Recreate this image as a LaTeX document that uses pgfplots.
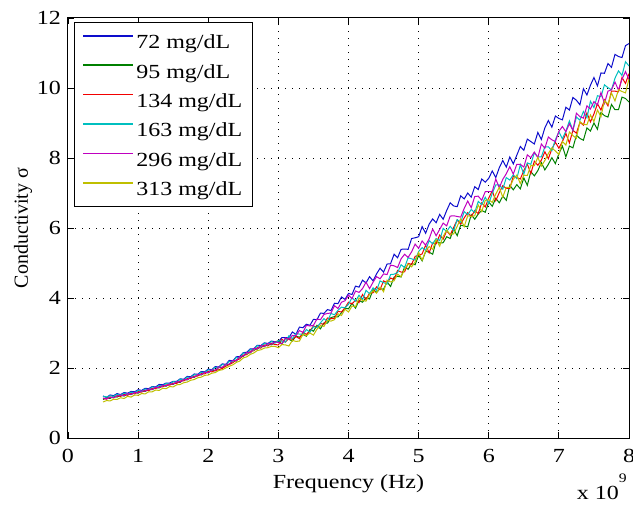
\documentclass[border=0pt]{standalone}
\usepackage{pgfplots}
\pgfplotsset{compat=1.18}
\usepackage{pgfplotstable}
\usepackage{fontspec}
\setmainfont{Liberation Serif}
% the reference text is set wide, so a stretched Times-like face for horizontal text
\newfontfamily\widefam{Liberation Serif}[FakeStretch=1.2]
\newcommand{\wf}{\fontsize{10}{12}\widefam}

\definecolor{mblue}{rgb}{0.05,0.05,0.8}
\definecolor{mgreen}{rgb}{0,0.5,0}
\definecolor{mred}{rgb}{0.95,0,0}
\definecolor{mcyan}{rgb}{0,0.75,0.75}
\definecolor{mmag}{rgb}{0.75,0,0.75}
\definecolor{myel}{rgb}{0.75,0.75,0}

% x in GHz; b=72, g=95, r=134, c=163, m=296, y=313 mg/dL
\pgfplotstableread{
x b g r c m y
0.50 1.20 1.10 1.13 1.19 1.14 1.03
0.55 1.16 1.15 1.11 1.17 1.12 1.07
0.60 1.23 1.13 1.17 1.21 1.17 1.06
0.65 1.21 1.19 1.15 1.19 1.15 1.11
0.70 1.27 1.17 1.21 1.25 1.20 1.10
0.75 1.24 1.22 1.19 1.22 1.23 1.15
0.80 1.30 1.20 1.25 1.28 1.21 1.13
0.85 1.28 1.26 1.22 1.25 1.27 1.19
0.90 1.33 1.24 1.28 1.31 1.25 1.17
0.95 1.32 1.30 1.26 1.29 1.30 1.23
1.00 1.38 1.28 1.33 1.36 1.29 1.22
1.05 1.36 1.34 1.31 1.33 1.35 1.27
1.10 1.42 1.33 1.37 1.40 1.34 1.26
1.15 1.41 1.39 1.35 1.38 1.40 1.32
1.20 1.47 1.38 1.42 1.46 1.39 1.32
1.25 1.46 1.44 1.41 1.44 1.45 1.37
1.30 1.53 1.43 1.47 1.50 1.44 1.36
1.35 1.52 1.50 1.46 1.49 1.50 1.42
1.40 1.57 1.48 1.52 1.56 1.49 1.41
1.45 1.57 1.55 1.51 1.54 1.55 1.47
1.50 1.62 1.53 1.57 1.61 1.54 1.46
1.55 1.62 1.60 1.56 1.60 1.61 1.52
1.60 1.69 1.59 1.63 1.68 1.60 1.53
1.65 1.68 1.67 1.63 1.66 1.67 1.58
1.70 1.76 1.66 1.70 1.74 1.67 1.60
1.75 1.75 1.74 1.70 1.73 1.74 1.65
1.80 1.83 1.73 1.77 1.81 1.74 1.67
1.85 1.82 1.81 1.77 1.80 1.81 1.72
1.90 1.90 1.80 1.84 1.88 1.81 1.74
1.95 1.89 1.88 1.83 1.87 1.88 1.79
2.00 1.97 1.86 1.91 1.95 1.87 1.80
2.05 1.95 1.94 1.89 1.93 1.95 1.85
2.10 2.04 1.92 1.93 2.02 1.94 1.87
2.15 2.03 2.02 1.95 2.01 2.03 1.93
2.20 2.12 2.00 1.99 2.10 2.02 1.95
2.25 2.10 2.10 2.05 2.08 2.11 2.00
2.30 2.22 2.10 2.10 2.19 2.11 2.05
2.35 2.20 2.21 2.15 2.18 2.22 2.09
2.40 2.32 2.20 2.23 2.30 2.21 2.16
2.45 2.33 2.32 2.26 2.29 2.33 2.20
2.50 2.44 2.33 2.37 2.43 2.34 2.29
2.55 2.45 2.44 2.38 2.41 2.45 2.32
2.60 2.55 2.43 2.48 2.53 2.44 2.39
2.65 2.55 2.55 2.49 2.51 2.56 2.43
2.70 2.65 2.54 2.58 2.64 2.55 2.50
2.75 2.64 2.63 2.57 2.60 2.64 2.52
2.80 2.72 2.61 2.66 2.71 2.62 2.57
2.85 2.70 2.69 2.63 2.66 2.70 2.58
2.90 2.77 2.66 2.71 2.76 2.68 2.62
2.95 2.75 2.74 2.67 2.71 2.75 2.62
3.00 2.75 2.78 2.66 2.78 2.73 2.58
3.05 2.87 2.69 2.82 2.77 2.68 2.67
3.10 2.87 2.84 2.74 2.74 2.86 2.66
3.15 2.87 2.82 2.84 2.92 2.82 2.63
3.20 3.03 2.77 2.82 2.84 2.93 2.79
3.25 2.96 2.91 2.90 2.98 2.92 2.76
3.30 3.17 2.88 2.84 2.97 3.07 2.77
3.35 3.15 2.96 3.02 2.96 3.02 2.96
3.40 3.25 2.91 2.96 3.10 3.22 2.93
3.45 3.22 3.10 3.06 3.02 3.20 3.00
3.50 3.39 3.05 3.20 3.18 3.22 2.94
3.55 3.38 3.22 3.17 3.16 3.40 3.11
3.60 3.57 3.12 3.27 3.29 3.38 3.21
3.65 3.56 3.29 3.25 3.41 3.53 3.19
3.70 3.67 3.28 3.43 3.33 3.56 3.36
3.75 3.64 3.44 3.41 3.56 3.57 3.34
3.80 3.85 3.47 3.42 3.52 3.78 3.38
3.85 3.84 3.46 3.62 3.65 3.70 3.55
3.90 4.03 3.58 3.60 3.74 3.88 3.50
3.95 3.96 3.71 3.72 3.72 3.92 3.68
4.00 4.13 3.69 3.88 3.82 4.08 3.60
4.05 4.10 3.85 3.83 4.01 3.98 3.77
4.10 4.34 3.71 3.94 3.91 4.20 3.75
4.15 4.31 3.93 3.87 4.08 4.16 4.00
4.20 4.51 3.88 4.10 3.95 4.27 3.93
4.25 4.43 4.01 3.95 4.22 4.45 3.91
4.30 4.61 3.97 4.14 4.12 4.27 4.10
4.35 4.49 4.24 4.15 4.29 4.45 4.21
4.40 4.69 4.16 4.32 4.22 4.61 4.14
4.45 4.85 4.27 4.24 4.49 4.55 4.31
4.50 4.74 4.25 4.49 4.44 4.69 4.18
4.55 4.97 4.46 4.44 4.40 4.67 4.51
4.60 4.98 4.33 4.57 4.67 4.94 4.46
4.65 5.25 4.60 4.53 4.68 4.92 4.49
4.70 5.15 4.62 4.79 4.73 4.87 4.68
4.75 5.39 4.60 4.74 4.95 5.12 4.61
4.80 5.40 4.89 4.75 4.87 5.25 4.82
4.85 5.39 4.82 4.99 5.15 5.16 4.97
4.90 5.70 4.98 4.96 5.12 5.32 4.89
4.95 5.72 4.95 5.19 5.08 5.54 5.03
5.00 5.75 5.22 5.22 5.33 5.42 5.30
5.05 6.04 5.06 5.26 5.44 5.63 5.08
5.10 5.85 5.33 5.51 5.36 5.51 5.33
5.15 6.11 5.31 5.29 5.64 5.69 5.47
5.20 6.26 5.25 5.57 5.55 5.97 5.39
5.25 6.15 5.63 5.55 5.70 5.78 5.67
5.30 6.39 5.57 5.80 5.64 5.96 5.48
5.35 6.25 5.58 5.68 5.99 6.14 5.76
5.40 6.50 5.75 5.92 5.90 6.06 5.94
5.45 6.72 5.70 5.80 6.05 6.34 5.82
5.50 6.63 5.97 6.02 5.93 6.35 5.83
5.55 6.61 5.78 6.23 6.24 6.33 6.05
5.60 6.92 6.08 6.11 6.16 6.31 6.26
5.65 6.83 6.06 6.29 6.47 6.56 6.04
5.70 7.00 6.03 6.44 6.38 6.77 6.35
5.75 6.88 6.38 6.32 6.53 6.58 6.33
5.80 7.18 6.25 6.50 6.44 6.90 6.35
5.85 7.10 6.40 6.41 6.76 6.91 6.66
5.90 7.40 6.50 6.72 6.67 6.79 6.47
5.95 7.31 6.45 6.60 6.88 7.04 6.79
6.00 7.42 6.74 6.86 6.70 7.04 6.81
6.05 7.63 6.62 7.06 6.99 7.04 6.73
6.10 7.44 6.85 6.78 7.23 7.40 6.97
6.15 7.72 6.72 7.01 7.23 7.15 7.16
6.20 7.93 6.91 7.21 7.11 7.39 6.88
6.25 7.74 6.79 7.13 7.44 7.55 7.16
6.30 8.03 7.22 7.13 7.37 7.75 7.16
6.35 7.83 7.09 7.48 7.52 7.54 7.39
6.40 8.08 7.24 7.44 7.41 7.82 7.51
6.45 8.33 7.12 7.40 7.81 7.82 7.27
6.50 8.22 7.43 7.64 7.54 7.74 7.51
6.55 8.54 7.22 7.83 7.86 8.09 7.50
6.60 8.47 7.61 7.55 7.82 8.01 7.78
6.65 8.40 7.49 7.91 8.15 8.17 7.78
6.70 8.73 7.64 7.79 8.03 8.01 8.02
6.75 8.53 7.87 7.94 8.03 8.40 7.77
6.80 8.86 7.66 8.18 8.32 8.28 7.93
6.85 9.07 7.82 7.98 8.32 8.60 8.13
6.90 8.88 8.01 8.26 8.21 8.52 8.29
6.95 9.20 7.84 8.45 8.52 8.47 8.20
7.00 9.13 8.12 8.28 8.75 8.76 8.10
7.05 9.09 8.34 8.47 8.55 8.90 8.47
7.10 9.45 8.03 8.70 8.77 8.75 8.37
7.15 9.37 8.34 8.43 9.06 8.98 8.74
7.20 9.73 8.29 8.79 8.79 8.79 8.64
7.25 9.65 8.65 8.71 9.17 9.28 8.56
7.30 9.52 8.56 9.02 9.08 9.18 9.04
7.35 9.98 8.51 8.94 9.33 9.14 8.96
7.40 9.80 8.86 9.29 9.15 9.49 8.95
7.45 10.08 8.77 9.03 9.62 9.40 9.23
7.50 10.30 9.00 9.26 9.44 9.61 9.04
7.55 10.06 8.82 9.55 9.78 9.52 9.37
7.60 10.43 9.30 9.37 9.75 9.87 9.18
7.65 10.42 9.21 9.66 10.09 9.56 9.64
7.70 10.70 9.17 9.49 10.01 9.91 9.54
7.75 10.59 9.53 9.91 9.95 9.95 9.86
7.80 10.96 9.38 9.91 10.28 10.17 9.63
7.85 10.90 9.38 9.89 10.49 9.94 9.95
7.90 10.87 9.74 10.30 10.36 10.25 9.90
7.95 11.21 9.70 10.13 10.75 10.47 9.86
8.00 11.27 9.60 10.41 10.63 10.24 10.26
}\cond

\begin{document}
\begin{tikzpicture}
\begin{axis}[
    width=280.5pt, height=210pt, scale only axis,
    xmin=0, xmax=8, ymin=0, ymax=12,
    xtick={0,1,...,8}, ytick={0,2,...,12},
    tick align=inside,
    major tick length=3pt,
    every tick/.style={black, line width=0.4pt},
    axis line style={black, line width=0.5pt},
    grid=major,
    grid style={black, line width=0.5pt, dash pattern=on 0.6pt off 2.9pt},
    /pgf/number format/assume math mode=true,
    tick label style={font=\wf},
    xticklabel style={yshift=-2pt},
    xlabel={Frequency (Hz)},
    ylabel={Conductivity σ},
    every axis x label/.style={at={(rel axis cs:0.5,0)}, anchor=base,
        yshift=-25pt, font=\wf},
    every axis y label/.style={at={(rel axis cs:-0.0802,0.5)}, rotate=90,
        anchor=center, font=\fontsize{10}{12}\selectfont},
    legend style={at={(0.0107,0.9905)}, anchor=north west, draw=black,
        font=\wf, row sep=4.3pt, inner xsep=4pt, inner ysep=4pt,
        nodes={inner sep=1.2pt, text height=8pt, text depth=0pt}},
    legend cell align=left,
    legend image code/.code={\draw[#1, line width=0.75pt] (0pt,2.5pt) -- (25pt,2.5pt);},
    every axis plot/.append style={line width=0.5pt, no markers},
]
\addplot[mblue]  table[x=x, y=b] {\cond};
\addplot[mgreen] table[x=x, y=g] {\cond};
\addplot[mred]   table[x=x, y=r] {\cond};
\addplot[mcyan]  table[x=x, y=c] {\cond};
\addplot[mmag]   table[x=x, y=m] {\cond};
\addplot[myel]   table[x=x, y=y] {\cond};
\legend{72 mg/dL, 95 mg/dL, 134 mg/dL, 163 mg/dL, 296 mg/dL, 313 mg/dL}
\end{axis}
\node[anchor=base east, font=\wf, inner sep=0pt]
    at ([xshift=-1pt,yshift=-30.5pt]current axis.south east)
    {x 10\raisebox{8.5pt}{\fontsize{6.5}{7}\widefam 9}};
\pgfresetboundingbox
\path[use as bounding box] ([shift={(-34pt,-33pt)}]current axis.south west)
    rectangle ([shift={(2pt,9pt)}]current axis.north east);
\end{tikzpicture}
\end{document}
